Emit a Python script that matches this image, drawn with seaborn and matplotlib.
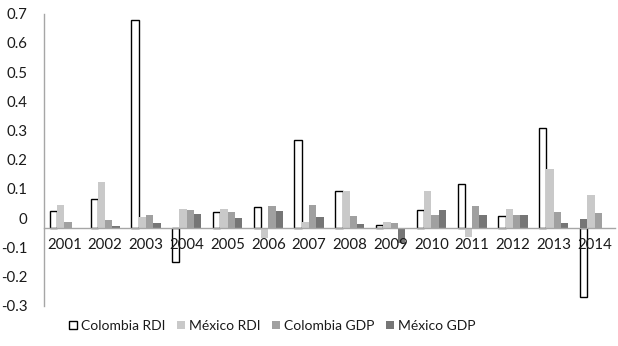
import matplotlib

matplotlib.use("Agg")

import matplotlib.pyplot as plt
import matplotlib.transforms as mtransforms
import pandas as pd
import seaborn as sns

years = [str(y) for y in range(2001, 2015)]
colombia_rdi = [0.059, 0.099, 0.712, -0.116, 0.056, 0.072, 0.301,
                0.127, 0.010, 0.062, 0.151, 0.041, 0.342, -0.235]
mexico_rdi = [0.080, 0.159, 0.039, 0.064, 0.064, -0.033, 0.022,
              0.127, 0.022, 0.127, -0.032, 0.064, 0.203, 0.114]
colombia_gdp = [0.021, 0.027, 0.045, 0.060, 0.055, 0.076, 0.080,
                0.040, 0.018, 0.046, 0.074, 0.046, 0.056, 0.052]
mexico_gdp = [0.000, 0.008, 0.016, 0.048, 0.034, 0.057, 0.036,
              0.015, -0.051, 0.060, 0.045, 0.046, 0.017, 0.032]
series = ["Colombia RDI", "México RDI", "Colombia GDP", "México GDP"]


def main():
    values = [colombia_rdi, mexico_rdi, colombia_gdp, mexico_gdp]
    rows = []
    for name, vals in zip(series, values):
        for year, v in zip(years, vals):
            rows.append({"year": year, "series": name, "value": v})
    df = pd.DataFrame(rows)

    sns.set_theme(style="white")
    plt.rcParams["font.family"] = ["Lato", "DejaVu Sans"]
    text_color = "#1a1a1a"
    axis_color = "#a6a6a6"

    fig = plt.figure(figsize=(6.18, 3.46), dpi=100)
    ax = fig.add_axes([0.0712, 1 - 315.6 / 346, 0.995 - 0.0712, (315.6 - 14) / 346])

    palette = ["#ffffff", "#c9c9c9", "#a0a0a0", "#767676"]
    sns.barplot(
        data=df,
        x="year",
        y="value",
        hue="series",
        hue_order=series,
        order=years,
        palette=palette,
        width=0.716,
        linewidth=0,
        saturation=1,
        ax=ax,
    )

    for bar in ax.containers[0]:
        bar.set_edgecolor("black")
        bar.set_linewidth(1.0)
        bar.set_facecolor("none")

    # in the original, México GDP 2014 sits in the first slot of its group
    moved = ax.containers[3][13]
    moved.set_x(ax.containers[0][13].get_x())
    moved.set_zorder(5)

    ax.set_axisbelow(False)
    ax.set_xlim(-0.5, len(years) - 0.5)
    ax.set_ylim(-0.30, 0.733)
    ax.set_yticks([-0.3, -0.2, -0.1, 0, 0.1, 0.2, 0.3, 0.4, 0.5, 0.6, 0.7])
    ax.set_yticklabels(["-0.3", "-0.2", "-0.1", "0", "0.1", "0.2", "0.3",
                        "0.4", "0.5", "0.6", "0.7"])
    ax.set_xlabel("")
    ax.set_ylabel("")

    for side in ["top", "right"]:
        ax.spines[side].set_visible(False)
    ax.spines["left"].set_color(axis_color)
    ax.spines["left"].set_linewidth(1.0)
    ax.spines["left"].set_bounds(-0.267, 0.733)
    ax.spines["bottom"].set_position(("data", 0))
    ax.spines["bottom"].set_color(axis_color)
    ax.spines["bottom"].set_linewidth(1.0)

    ax.tick_params(axis="x", length=0, pad=7, labelsize=10.8, colors=text_color)
    ax.tick_params(axis="y", length=0, pad=12, labelsize=10.8, colors=text_color)
    shift = mtransforms.ScaledTranslation(0, 0.10, fig.dpi_scale_trans)
    for lab in ax.get_yticklabels():
        lab.set_transform(lab.get_transform() + shift)

    ax.get_legend().remove()
    handles = [c[0] for c in ax.containers]
    fig.legend(
        handles,
        series,
        loc="center",
        bbox_to_anchor=(0.44, 0.058),
        ncol=4,
        frameon=False,
        handlelength=0.6,
        handleheight=0.6,
        handletextpad=0.25,
        columnspacing=0.85,
        fontsize=10,
        labelcolor=text_color,
    )

    fig.savefig("out.png", dpi=100, facecolor="white")


if __name__ == "__main__":
    main()
